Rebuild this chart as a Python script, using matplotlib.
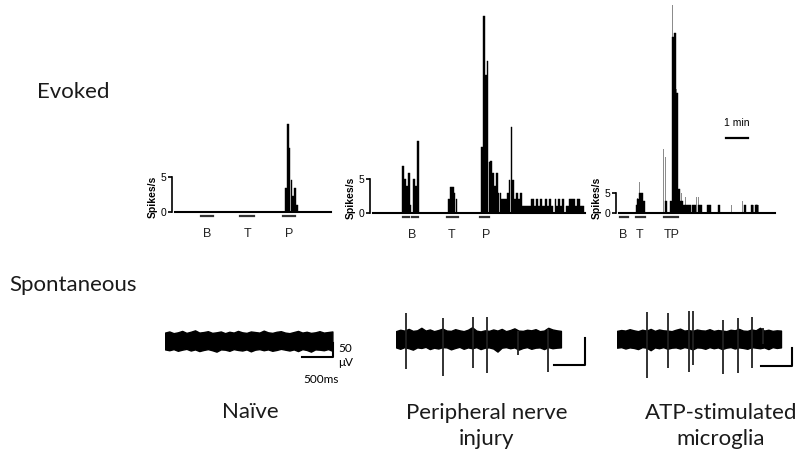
import numpy as np
import matplotlib
matplotlib.use("Agg")
import matplotlib.pyplot as plt

W, H = 800, 469
PX_PER_S = 22 / 60      # 1 min scale bar is 22 px
PX_PER_MS = 31 / 500    # 500 ms scale bar is 31 px
PX_PER_UV = 14 / 50     # 50 uV scale bar is 14 px
BIN = 5                 # histogram bin, s

# ---- evoked histograms (spikes/s per 5 s bin) ----
naive_start = 300
naive_vals = [3.5, 12.6, 9.2, 4.6, 2.3, 3.4, 1.0]

pni_b_start = 80
pni_b_vals = [6.9, 5.0, 4.0, 5.9, 1.2, 0, 5.0, 4.0, 10.6]
pni_t_start = 205
pni_t_vals = [2.0, 3.8, 3.8, 3.0, 2.0]
pni_p_start = 295
pni_p_vals = [9.7, 29.0, 20.3, 22.4, 7.5, 7.7, 5.9, 4.0, 5.9, 3.0, 3.0, 2.0, 2.0, 2.0,
              3.0, 4.8, 12.7, 4.8, 2.0, 3.0, 2.0, 3.0, 1.0, 1.0, 1.0, 1.0, 1.0, 2.0,
              2.0, 1.0, 2.0, 1.0, 2.0, 1.0, 1.0, 2.0, 1.0, 2.0, 1.0, 0, 2.0, 1.0, 2.0,
              1.0, 2.0, 0, 1.0, 1.0, 2.0, 2.0, 2.0, 1.0, 2.0, 2.0, 1.0, 1.0]

atp_black_t = [45, 50, 55, 60, 65, 125, 140, 145, 150, 155, 160, 165, 170, 175, 180,
               185, 190, 200, 205, 215, 220, 240, 245, 270, 340, 360, 370, 375]
atp_black_v = [2, 3.5, 5, 5, 3, 3, 3, 44, 45, 30, 6, 3, 3, 2, 2,
               2, 2, 2, 2, 2, 2, 2, 2, 2, 2, 2, 2, 2]
atp_gray_t = [50, 55, 100, 120, 125, 130, 135, 145, 150, 155, 160, 165, 170, 180, 190,
              195, 210, 215, 220, 305, 315, 335, 365, 370, 375, 380, 400]
atp_gray_v = [3.75, 7.75, 1.8, 16, 14, 4, 7, 52, 38, 31, 20, 13, 5, 4, 6,
              3, 4, 4, 4, 2, 2, 3, 2, 2, 2, 2, 2]

# stimulus periods (s) and labels
naive_stims = [(71, 104), (177, 215), (295, 327)]
naive_labels = [(87, "B"), (197, "T"), (311, "P")]
pni_stims = [(82, 98), (106, 123), (202, 232), (293, 315)]
pni_labels = [(106, "B"), (215, "T"), (309, "P")]
atp_stims = [(3, 25), (46, 71), (123, 161)]
atp_labels = [(11, "B"), (57, "T"), (144, "TP")]

# ---- spontaneous traces (uV envelopes, spikes) ----
naive_upper = [30, 34, 28, 31, 36, 29, 33, 38, 30, 32, 35, 29, 31, 34, 28, 33, 30, 36, 31, 29,
               34, 32, 30, 37, 31, 29, 33, 35, 30, 28, 32, 36, 30, 33, 29, 31, 35, 30, 32, 34]
naive_lower = [-30, -33, -29, -35, -31, -28, -34, -30, -36, -32, -29, -33, -38, -30, -31, -35,
               -29, -32, -34, -30, -37, -31, -29, -33, -30, -35, -32, -28, -31, -34, -30, -36,
               -29, -32, -38, -30, -31, -33, -29, -35]
pni_upper = [28, 33, 30, 36, 29, 31, 40, 30, 34, 28, 32, 37, 30, 29, 35, 31, 28, 33, 42, 30,
             27, 31, 29, 34, 30, 36, 28, 32, 38, 30, 29, 33, 31, 35, 28, 30, 40, 34, 31, 29]
pni_lower = [-30, -35, -29, -33, -38, -30, -32, -28, -36, -31, -34, -29, -30, -37, -32, -28,
             -35, -30, -33, -29, -36, -31, -30, -34, -45, -31, -29, -33, -30, -38, -32, -29,
             -35, -31, -30, -36, -29, -33, -31, -30]
atp_upper = [29, 32, 30, 35, 31, 28, 33, 30, 36, 29, 34, 31, 30, 28, 33, 37, 30, 32, 29, 34,
             31, 30, 35, 29, 32, 30, 28, 33, 31, 36, 30, 29, 34, 31, 40, 30, 33, 29, 31, 30]
atp_lower = [-31, -29, -34, -30, -32, -36, -29, -31, -40, -30, -33, -29, -35, -31, -30, -34,
             -29, -32, -37, -30, -31, -35, -29, -33, -30, -36, -31, -29, -34, -30, -32, -35,
             -29, -31, -33, -30, -36, -29, -32, -30]

pni_spike_t = [161, 758, 1242, 1468, 1968, 2452]
pni_spike_up = [93, 75, 79, 79, 29, 36]
pni_spike_dn = [-107, -132, -104, -121, -57, -118]
atp_spike_t = [484, 823, 1161, 1226, 1710, 1952, 2177, 2355]
atp_spike_up = [96, 93, 100, 100, 68, 75, 79, 39]
atp_spike_dn = [-139, -104, -118, -93, -125, -121, -104, -18]

fig = plt.figure(figsize=(8, 4.69), dpi=100)
small_font = "Liberation Sans"
big_font = "Lato"


def px_axes(left, top, right, bottom):
    ax = fig.add_axes([left / W, 1 - bottom / H, (right - left) / W, (bottom - top) / H])
    ax.patch.set_visible(False)
    return ax


def draw_evoked(x0, base, ppu, tmax, ymax, bars, gray_bars, stims, labels):
    ax = px_axes(x0 - 3, base - ymax * ppu, x0 + tmax * PX_PER_S, base)
    ax.set_xlim(-3 / PX_PER_S, tmax)
    ax.set_ylim(0, ymax)
    for t, v in gray_bars:
        ax.bar(t, v, width=BIN * 0.4, align="edge", color="#8c8c8c", lw=0)
    for t, v in bars:
        ax.bar(t, v, width=BIN, align="edge", color="black", edgecolor="black", lw=0.3)
    ax.plot([0, tmax], [0, 0], color="black", lw=1.5, clip_on=False)
    for t0, t1 in stims:
        ax.plot([t0, t1], [-4 / ppu, -4 / ppu], color="#333333", lw=1.6, clip_on=False)
    for t, s in labels:
        ax.text(t, -22 / ppu, s, ha="center", va="center", fontsize=9,
                family=small_font, color="#222222", clip_on=False)
    for side in ["top", "right", "bottom"]:
        ax.spines[side].set_visible(False)
    ax.spines["left"].set_bounds(0, 5)
    ax.spines["left"].set_linewidth(1.2)
    ax.set_xticks([])
    ax.set_yticks([0, 5])
    ax.tick_params(axis="y", length=3, width=1.2, pad=1, labelsize=7.5)
    for lab in ax.get_yticklabels():
        lab.set_family(small_font)
    ax.annotate("Spikes/s", xy=(0, 0), xycoords=("axes fraction", "data"),
                xytext=(-14, 11), textcoords="offset points", rotation=90,
                ha="center", va="center", fontsize=7.5, fontweight="bold", family=small_font)
    return ax


def contiguous(start, vals):
    return [(start + i * BIN, v) for i, v in enumerate(vals)]


draw_evoked(175, 212, 7.0, 425, 13.5, contiguous(naive_start, naive_vals), [],
            naive_stims, naive_labels)
draw_evoked(373, 213, 6.8, 578, 31, contiguous(pni_b_start, pni_b_vals)
            + contiguous(pni_t_start, pni_t_vals) + contiguous(pni_p_start, pni_p_vals),
            [], pni_stims, pni_labels)
ax3 = draw_evoked(619, 213, 4.0, 425, 53, list(zip(atp_black_t, atp_black_v)),
                  list(zip(atp_gray_t, atp_gray_v)), atp_stims, atp_labels)
# 1 min scale bar
ax3.plot([292, 352], [18.75, 18.75], color="black", lw=1.6, clip_on=False)
ax3.text(322, 22.5, "1 min", ha="center", va="center", fontsize=7.5, family=small_font)


def draw_trace(x0, yc, length, upper, lower, sp_t, sp_up, sp_dn, sbar):
    ax = px_axes(x0, yc - 45, x0 + 200, yc + 45)
    ax.set_xlim(0, 200 / PX_PER_MS)
    ax.set_ylim(-45 / PX_PER_UV, 45 / PX_PER_UV)
    ax.axis("off")
    t = np.linspace(0, length, len(upper))
    ax.fill_between(t, lower, upper, color="black", lw=1.0, edgecolor="black")
    if sp_t:
        ax.vlines(sp_t, sp_dn, sp_up, color="#222222", lw=1.3)
    t_end, y0, h = sbar
    ax.plot([t_end - 500, t_end, t_end], [y0, y0, y0 + h], color="black", lw=1.5,
            clip_on=False)
    return ax


ax_n = draw_trace(165, 341, 2700, naive_upper, naive_lower, [], [], [], (2710, -57, 50))
ax_n.text(2790, -25, "50", ha="left", va="center", fontsize=8.5, family=big_font)
ax_n.text(2790, -75, "\u03bcV", ha="left", va="center", fontsize=8.5, family=big_font)
ax_n.text(2516, -139, "500ms", ha="center", va="center", fontsize=8.5, family=big_font)
draw_trace(396, 339, 2660, pni_upper, pni_lower, pni_spike_t, pni_spike_up, pni_spike_dn,
           (3048, -93, 96))
draw_trace(617, 339, 2645, atp_upper, atp_lower, atp_spike_t, atp_spike_up, atp_spike_dn,
           (2823, -96, 64))

# row and column titles
title_kw = dict(ha="center", va="center", fontsize=16, family=big_font, color="#1a1a1a")
fig.text(73 / W, 1 - 92 / H, "Evoked", **title_kw)
fig.text(73 / W, 1 - 285 / H, "Spontaneous", **title_kw)
fig.text(250 / W, 1 - 412 / H, "Na\u00efve", **title_kw)
fig.text(487 / W, 1 - 426 / H, "Peripheral nerve\ninjury", linespacing=1.35, **title_kw)
fig.text(721 / W, 1 - 426 / H, "ATP-stimulated\nmicroglia", linespacing=1.35, **title_kw)

fig.savefig("out.png", dpi=100)
